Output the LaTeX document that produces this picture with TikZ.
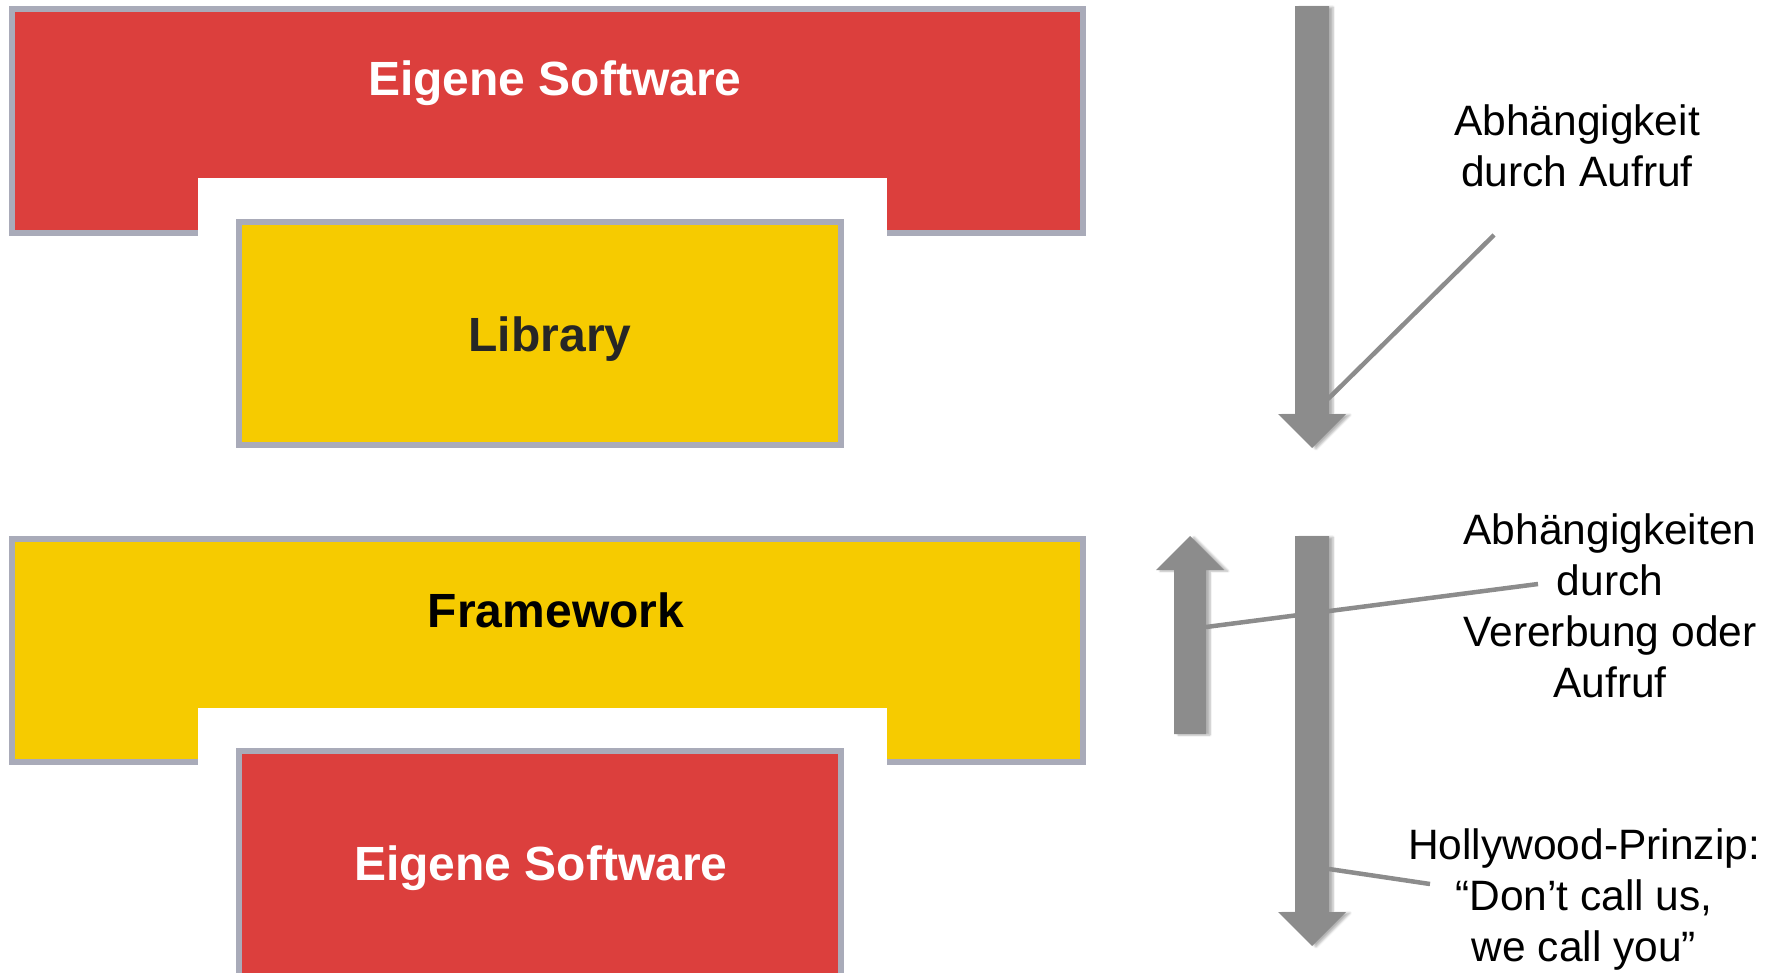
\documentclass[tikz,border=0pt]{standalone}
\usepackage{fontspec}
\setmainfont{Liberation Sans}
\usetikzlibrary{positioning,shadows.blur}

\definecolor{swred}{HTML}{DC3F3D}
\definecolor{fwyellow}{HTML}{F6CB00}
\definecolor{frame}{HTML}{A9ABB9}
\definecolor{arrowgray}{HTML}{8C8C8C}

\begin{document}
\begin{tikzpicture}[
    x=1pt, y=-1pt,
    block/.style={draw=frame, line width=6pt},
    title/.style={font=\fontsize{48}{56}\selectfont\bfseries},
    note/.style={font=\fontsize{42.5}{51}\selectfont, align=center},
    fatarrow/.style={fill=arrowgray, blur shadow={shadow xshift=4pt, shadow yshift=-1pt, shadow opacity=30, shadow blur steps=6}},
    leader/.style={draw=arrowgray, line width=4.5pt}
    ]
    \useasboundingbox (0,0) rectangle (1777,972);
    \clip (0,0) rectangle (1777,972);

    % Eigene Software (oben) mit Aussparung
    \filldraw[block, fill=swred] (12,9) rectangle (1083,233);
    \fill[white] (198,178) rectangle (887,245);
    \node[title, text=white] (sw1) at (555,83) {Eigene Software};

    % Library
    \filldraw[block, fill=fwyellow] (239,222) rectangle (841,445);
    \node[title, text=black!85] (lib) at (550,339) {Library};

    % Framework mit Aussparung
    \filldraw[block, fill=fwyellow] (12,539) rectangle (1083,762);
    \fill[white] (198,708) rectangle (887,775);
    \node[title, text=black] (fw) at (556,610) {Framework};

    % Eigene Software (unten)
    \filldraw[block, fill=swred] (239,751) rectangle (841,1000);
    \node[title, text=white] (sw2) at (541,868) {Eigene Software};

    % Pfeile
    \fill[fatarrow] (1295,6) -- (1329,6) -- (1329,414) -- (1346,414) -- (1312,448)
        -- (1278,414) -- (1295,414) -- cycle;
    \fill[fatarrow] (1174,734) -- (1174,570) -- (1156,570) -- (1190,536)
        -- (1224,570) -- (1206,570) -- (1206,734) -- cycle;
    \fill[fatarrow] (1295,536) -- (1329,536) -- (1329,912) -- (1346,912) -- (1312,946)
        -- (1278,912) -- (1295,912) -- cycle;

    % Beschriftungen
    \node[note] (dep) at (1577,146) {Abhängigkeit\\durch Aufruf};
    \node[note] (inh) at (1610,606) {Abhängigkeiten\\durch\\Vererbung oder\\Aufruf};
    \node[note] (hw) at (1584,899) {Hollywood-Prinzip:\\“Don’t call us,\\we call you”};

    % Hinweislinien
    \coordinate (dep-a) at (1494,235);
    \coordinate (dep-b) at (1328,399);
    \coordinate (inh-a) at (1538,584);
    \coordinate (inh-b) at (1206,627);
    \coordinate (hw-a) at (1430,884);
    \coordinate (hw-b) at (1329,869);
    \foreach \l in {dep, inh, hw}
        \draw[leader] (\l-a) -- (\l-b);

\end{tikzpicture}
\end{document}
